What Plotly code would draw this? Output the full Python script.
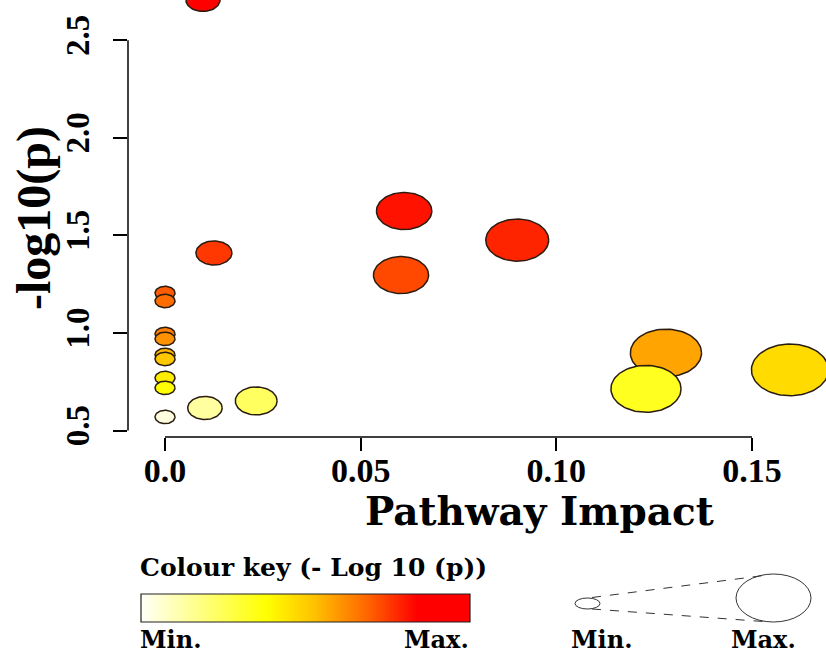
import numpy as np
import colorsys
import plotly.graph_objects as go

# ---------------- data ----------------
impact = [0.0097, 0.0611, 0.0900, 0.0125, 0.0603, 0.0, 0.0, 0.0, 0.0, 0.1280,
          0.0, 0.0, 0.1597, 0.0, 0.0, 0.1229, 0.0233, 0.0102, 0.0]
neglogp = [2.706, 1.625, 1.476, 1.410, 1.297, 1.205, 1.164, 0.995, 0.970, 0.898,
           0.888, 0.867, 0.811, 0.770, 0.719, 0.714, 0.652, 0.616, 0.570]
x_tickvals = [0.0, 0.05, 0.10, 0.15]
x_ticktext = ["0.0", "0.05", "0.10", "0.15"]
y_tickvals = [0.5, 1.0, 1.5, 2.0, 2.5]
y_ticktext = ["0.5", "1.0", "1.5", "2.0", "2.5"]

# ---------------- layout geometry (pixels) ----------------
W, H = 826, 659
PL, PR, PT, PB = 128, 826, 0, 437          # plot area edges
xr = [-0.00946, 0.1689]
yr = [0.4672, 2.706]
px_x = (PR - PL) / (xr[1] - xr[0])
px_y = (PB - PT) / (yr[1] - yr[0])


def paper(px, py):
    return px / W, 1 - py / H


def heat_colors(n):
    j = n // 4
    i = n - j
    cols = []
    for k in range(i):
        h = (1 / 6) * k / (i - 1) if i > 1 else 0
        cols.append(colorsys.hsv_to_rgb(h, 1, 1))
    if j > 0:
        for s in np.linspace(1 - 1 / (2 * j), 1 / (2 * j), j):
            cols.append(colorsys.hsv_to_rgb(1 / 6, s, 1))
    return ["#%02X%02X%02X" % (round(r * 255), round(g * 255), round(b * 255)) for r, g, b in cols]


order = sorted(range(len(neglogp)), key=lambda i: -neglogp[i])
palette = heat_colors(len(neglogp))
colors = [None] * len(neglogp)
for rank, idx in enumerate(order):
    colors[idx] = palette[rank]

fig = go.Figure()
t = np.linspace(0, 2 * np.pi, 91)
for idx in order:
    xv, yv = impact[idx], neglogp[idx]
    w = 20 + 143 * np.sqrt(xv)
    h = 0.67 * w
    xs = xv + (w / 2) / px_x * np.cos(t)
    ys = yv + (h / 2) / px_y * np.sin(t)
    fig.add_trace(go.Scatter(x=xs, y=ys, mode="lines", fill="toself",
                             fillcolor=colors[idx],
                             line=dict(color="#2a1c10", width=1.5),
                             hoverinfo="skip", showlegend=False))

fig.add_trace(go.Scatter(
    x=impact, y=neglogp, mode="markers", showlegend=False,
    hovertemplate="Impact %{x}<br>-log10(p) %{y}<extra></extra>",
    marker=dict(size=14, opacity=0)))

# colour key gradient
key_scale = [[0.0, "#FFFFF6"], [0.38, "#FFFF00"], [0.52, "#FFC400"],
             [0.68, "#FF6A00"], [0.84, "#FF0000"], [1.0, "#FF0000"]]
key_z = [list(np.linspace(0, 1, 256))]
fig.add_trace(go.Heatmap(z=key_z, colorscale=key_scale, zmin=0, zmax=1,
                         showscale=False, zsmooth="best", hoverinfo="skip",
                         xaxis="x2", yaxis="y2"))

serif_r = "Liberation Serif"
serif_w = "DejaVu Serif"

annotations = []


def add_text(text, px, py, size, family, xanchor="center", angle=0):
    ax, ay = paper(px, py)
    annotations.append(dict(text=text, x=ax, y=ay, xref="paper", yref="paper",
                            xanchor=xanchor, yanchor="middle", showarrow=False,
                            textangle=angle,
                            font=dict(family=family, size=size, color="black", weight="bold")))


add_text("-log10(p)", 34, 218, 48, serif_r, angle=-90)
add_text("Pathway Impact", 539, 511, 39, serif_w)
add_text("Colour key (- Log 10 (p))", 138, 567, 25, serif_w, xanchor="left")
add_text("Min.", 138, 639, 24, serif_w, xanchor="left")
add_text("Max.", 471, 639, 24, serif_w, xanchor="right")
add_text("Min.", 602, 639, 24, serif_w)
add_text("Max.", 763, 639, 24, serif_w)

shapes = []
# R-style axis lines spanning first to last tick
shapes.append(dict(type="line", xref="x", yref="paper", x0=x_tickvals[0], x1=x_tickvals[-1],
                   y0=1 - PB / H, y1=1 - PB / H, line=dict(color="black", width=1.5)))
shapes.append(dict(type="line", xref="paper", yref="y", x0=PL / W, x1=PL / W,
                   y0=y_tickvals[0], y1=y_tickvals[-1], line=dict(color="black", width=1.5)))


def pshape(kind, p0, p1, **kw):
    x0, y0 = paper(*p0)
    x1, y1 = paper(*p1)
    d = dict(type=kind, xref="paper", yref="paper", x0=x0, y0=y0, x1=x1, y1=y1)
    d.update(kw)
    shapes.append(d)


pshape("rect", (141, 594), (470, 622), line=dict(color="#222", width=1.2))
pshape("circle", (575, 598), (600, 609), line=dict(color="#333", width=1))
pshape("circle", (736, 574), (811, 622), line=dict(color="#333", width=1))
pshape("line", (592, 597.5), (768, 575), line=dict(color="#333", width=1, dash="dash"))
pshape("line", (592, 609), (770, 622), line=dict(color="#333", width=1, dash="dash"))

fig.update_layout(
    width=W, height=H, margin=dict(l=0, r=0, t=0, b=0, pad=0, autoexpand=False),
    paper_bgcolor="white", plot_bgcolor="white",
    annotations=annotations, shapes=shapes, showlegend=False,
    xaxis=dict(domain=[PL / W, PR / W], range=xr, showgrid=False, zeroline=False,
               showline=False, tickmode="array", tickvals=x_tickvals, ticktext=x_ticktext,
               ticks="outside", ticklen=13, tickwidth=1.5, tickcolor="black",
               ticklabelstandoff=-10,
               tickfont=dict(family=serif_r, size=34, color="black", weight="bold")),
    yaxis=dict(domain=[1 - PB / H, 1 - PT / H], range=yr, showgrid=False, zeroline=False,
               showline=False, tickmode="array", tickvals=y_tickvals, ticktext=y_ticktext,
               ticks="outside", ticklen=14, tickwidth=1.5, tickcolor="black",
               tickangle=-90, ticklabelstandoff=11,
               tickfont=dict(family=serif_r, size=33, color="black", weight="bold")),
    xaxis2=dict(domain=[141 / W, 470 / W], range=[-0.5, 255.5], visible=False,
                anchor="y2", fixedrange=True),
    yaxis2=dict(domain=[1 - 622 / H, 1 - 594 / H], range=[-0.5, 0.5], visible=False,
                anchor="x2", fixedrange=True),
)

# remove the browser's default page margin so the figure sits at the window origin
fig.write_html("out.html", config={"displayModeBar": False},
               post_script="document.body.style.margin='0px';")
